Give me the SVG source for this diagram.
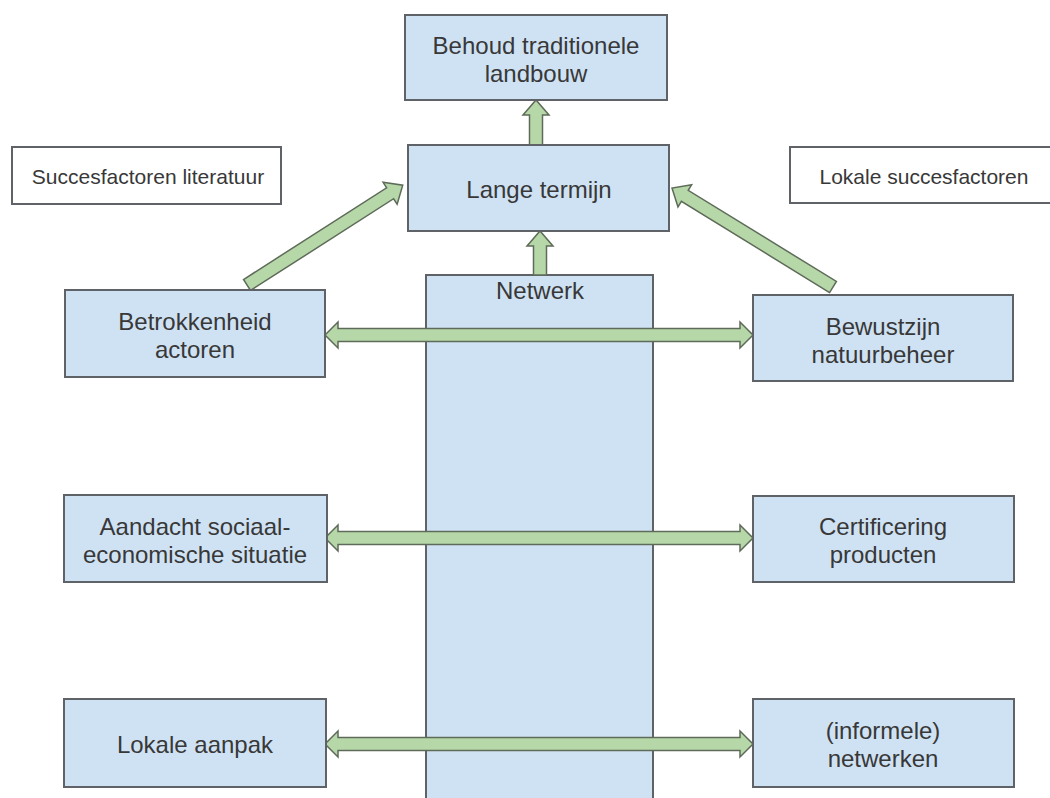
<svg xmlns="http://www.w3.org/2000/svg" width="1050" height="798" viewBox="0 0 1050 798">
<style>
.box{fill:#cfe2f3;stroke:#5f6368;stroke-width:2}
.lbl{fill:#ffffff;stroke:#5f6368;stroke-width:2}
.t{font-family:"Liberation Sans",Arial,sans-serif;font-size:24px;fill:#383838;text-anchor:middle}
.s{font-family:"Liberation Sans",Arial,sans-serif;font-size:21px;fill:#383838;text-anchor:middle}
.arr{fill:#b6d7a8;stroke:#5f6b5a;stroke-width:1.5;stroke-linejoin:miter}
</style>
<defs>
<polygon id="dbl" points="325,0 338,-13 338,-6.5 740,-6.5 740,-13 753,0 740,13 740,6.5 338,6.5 338,13"/>
</defs>
<rect width="1050" height="798" fill="#ffffff"/>
<g id="netwerk">
<rect class="box" x="426" y="275" width="227" height="540"/>
<text class="t" x="540" y="299">Netwerk</text>
</g>
<g id="connectors">
<polygon class="arr" transform="translate(536,231) rotate(-90)" points="0,-6.5 116,-6.5 116,-13 131,0 116,13 116,6.5 0,6.5"/>
<polygon class="arr" transform="translate(540,275) rotate(-90)" points="0,-6.5 29,-6.5 29,-13 44,0 29,13 29,6.5 0,6.5"/>
<polygon class="arr" transform="translate(247,285) rotate(-32.66)" points="0,-6.5 170,-6.5 170,-13 185,0 170,13 170,6.5 0,6.5"/>
<polygon class="arr" transform="translate(833,287) rotate(-148.41)" points="0,-6.5 174,-6.5 174,-13 189,0 174,13 174,6.5 0,6.5"/>
<use href="#dbl" class="arr" transform="translate(0,335)"/>
<use href="#dbl" class="arr" transform="translate(0,538)"/>
<use href="#dbl" class="arr" transform="translate(0,744)"/>
</g>
<g id="behoud">
<rect class="box" x="405" y="15" width="262" height="85"/>
<text class="t" x="536" y="54">Behoud traditionele</text>
<text class="t" x="536" y="82">landbouw</text>
</g>
<g id="lange-termijn">
<rect class="box" x="408" y="145" width="261" height="86"/>
<text class="t" x="539" y="198">Lange termijn</text>
</g>
<g id="succesfactoren-literatuur">
<rect class="lbl" x="12" y="147" width="269" height="57"/>
<text class="s" x="148" y="184">Succesfactoren literatuur</text>
</g>
<g id="lokale-succesfactoren">
<rect class="lbl" x="790" y="147" width="269" height="56"/>
<text class="s" x="924" y="184">Lokale succesfactoren</text>
</g>
<g id="betrokkenheid">
<rect class="box" x="65" y="290" width="260" height="87"/>
<text class="t" x="195" y="330">Betrokkenheid</text>
<text class="t" x="195" y="358">actoren</text>
</g>
<g id="bewustzijn">
<rect class="box" x="753" y="295" width="260" height="86"/>
<text class="t" x="883" y="335">Bewustzijn</text>
<text class="t" x="883" y="363">natuurbeheer</text>
</g>
<g id="aandacht">
<rect class="box" x="64" y="495" width="263" height="87"/>
<text class="t" x="195" y="535">Aandacht sociaal-</text>
<text class="t" x="195" y="563">economische situatie</text>
</g>
<g id="certificering">
<rect class="box" x="753" y="496" width="261" height="86"/>
<text class="t" x="883" y="535">Certificering</text>
<text class="t" x="883" y="563">producten</text>
</g>
<g id="lokale-aanpak">
<rect class="box" x="64" y="699" width="262" height="88"/>
<text class="t" x="195" y="753">Lokale aanpak</text>
</g>
<g id="informele-netwerken">
<rect class="box" x="753" y="699" width="261" height="88"/>
<text class="t" x="883" y="739">(informele)</text>
<text class="t" x="883" y="767">netwerken</text>
</g>
</svg>
